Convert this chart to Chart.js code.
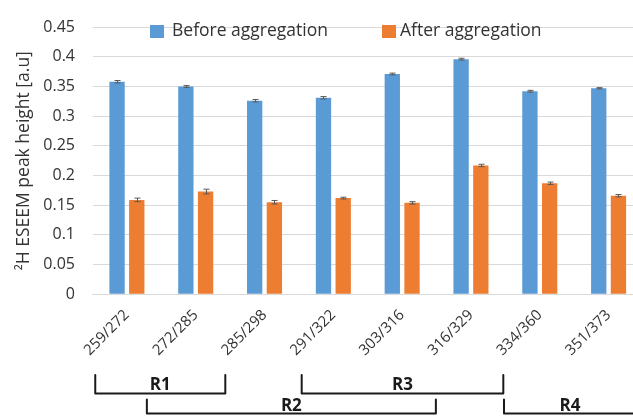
<!DOCTYPE html>
<html>
<head>
<meta charset="utf-8">
<script src="https://cdn.jsdelivr.net/npm/chart.js@4"></script>
<style>
  html, body { margin: 0; padding: 0; background: #ffffff; overflow: hidden; }
  #wrap { position: relative; width: 643px; height: 416px; }
</style>
</head>
<body>
<div id="wrap"><canvas id="chart"></canvas></div>
<script>
// Excitation/emission pairs on the category axis
const categories = ['259/272', '272/285', '285/298', '291/322', '303/316', '316/329', '334/360', '351/373'];
const seriesNames = ['Before aggregation', 'After aggregation'];

// Peak heights and their error margins
const beforeValues = [0.358, 0.350, 0.326, 0.331, 0.371, 0.396, 0.342, 0.347];
const beforeErrors = [0.002, 0.0015, 0.002, 0.002, 0.0015, 0.0015, 0.0015, 0.001];
const afterValues  = [0.159, 0.173, 0.155, 0.162, 0.154, 0.217, 0.187, 0.166];
const afterErrors  = [0.003, 0.004, 0.003, 0.0015, 0.002, 0.002, 0.002, 0.002];

// Spectral regions marked under the axis (span in category units, bracket row)
const regionNames = ['R1', 'R2', 'R3', 'R4'];
const regionFrom  = [-0.46, 0.29, 2.54, 5.48];
const regionTo    = [1.43, 4.49, 5.47, 8.5];
const regionRow   = [0, 1, 0, 1];

const FONT = "'Open Sans', 'DejaVu Sans', sans-serif";
const TEXT = '#333333';
const BLUE = '#5B9BD5';
const ORANGE = '#ED7D31';

// Vertical error bars with small caps
const errorBars = {
  id: 'errorBars',
  afterDatasetsDraw(chart) {
    const ctx = chart.ctx;
    const y = chart.scales.y;
    ctx.save();
    ctx.strokeStyle = '#595959';
    ctx.lineWidth = 1;
    chart.data.datasets.forEach((ds, di) => {
      const meta = chart.getDatasetMeta(di);
      meta.data.forEach((bar, i) => {
        const v = ds.data[i], e = ds.errors[i];
        const x = Math.round(bar.x) + 0.5;
        const y1 = y.getPixelForValue(v + e);
        const y2 = y.getPixelForValue(v - e);
        ctx.beginPath();
        ctx.moveTo(x, y1); ctx.lineTo(x, y2);
        ctx.moveTo(x - 3, y1); ctx.lineTo(x + 3, y1);
        ctx.moveTo(x - 3, y2); ctx.lineTo(x + 3, y2);
        ctx.stroke();
      });
    });
    ctx.restore();
  }
};

// Legend drawn inside the plot area, above the bars
const innerLegend = {
  id: 'innerLegend',
  afterDraw(chart) {
    const ctx = chart.ctx;
    const items = [{ box: 150, text: 172 }, { box: 382, text: 400 }];
    ctx.save();
    ctx.font = '17.5px ' + FONT;
    ctx.textBaseline = 'middle';
    ctx.textAlign = 'left';
    chart.data.datasets.forEach((ds, i) => {
      ctx.fillStyle = ds.backgroundColor;
      ctx.fillRect(items[i].box, 25, 14, 13);
      ctx.fillStyle = TEXT;
      ctx.fillText(ds.label, items[i].text, 31.5);
    });
    ctx.restore();
  }
};

// Brackets grouping the categories into regions
const regionBrackets = {
  id: 'regionBrackets',
  afterDraw(chart) {
    const ctx = chart.ctx;
    const x = chart.scales.x;
    const rows = [{ top: 375, line: 393.5, label: 385 }, { top: 399.5, line: 413.5, label: 406.5 }];
    ctx.save();
    ctx.strokeStyle = '#1a1a1a';
    ctx.lineWidth = 2;
    ctx.lineJoin = 'round';
    ctx.lineCap = 'round';
    ctx.fillStyle = '#1a1a1a';
    ctx.font = 'bold 17px ' + FONT;
    ctx.textAlign = 'center';
    ctx.textBaseline = 'middle';
    regionNames.forEach((name, i) => {
      const r = rows[regionRow[i]];
      const x1 = x.getPixelForValue(regionFrom[i]);
      const x2 = x.getPixelForValue(regionTo[i]);
      ctx.beginPath();
      ctx.moveTo(x1, r.top);
      ctx.lineTo(x1, r.line);
      ctx.lineTo(x2, r.line);
      ctx.lineTo(x2, r.top);
      ctx.stroke();
      const labelX = Math.min((x1 + x2) / 2, i === 3 ? 570 : Infinity);
      ctx.fillText(name, labelX, r.label);
    });
    ctx.restore();
  }
};

new Chart(document.getElementById('chart'), {
  type: 'bar',
  data: {
    labels: categories,
    datasets: [
      { label: seriesNames[0], data: beforeValues, errors: beforeErrors, backgroundColor: BLUE,
        barPercentage: 0.777, categoryPercentage: 0.573 },
      { label: seriesNames[1], data: afterValues, errors: afterErrors, backgroundColor: ORANGE,
        barPercentage: 0.777, categoryPercentage: 0.573 }
    ]
  },
  options: {
    responsive: true,
    maintainAspectRatio: false,
    animation: false,
    layout: { padding: { top: 20, left: 0, right: 0, bottom: 0 } },
    plugins: {
      legend: { display: false },
      tooltip: { enabled: false }
    },
    scales: {
      x: {
        offset: true,
        grid: { display: false, drawTicks: false },
        border: { display: true, color: '#D9D9D9', width: 1 },
        ticks: {
          color: TEXT,
          font: { family: FONT, size: 15 },
          minRotation: 45,
          maxRotation: 45,
          padding: 12,
          autoSkip: false
        },
        afterFit(scale) { scale.height = 121.7; }
      },
      y: {
        min: 0,
        max: 0.45,
        grid: { color: '#D9D9D9', lineWidth: 1, drawTicks: false },
        border: { display: false },
        ticks: {
          stepSize: 0.05,
          color: TEXT,
          font: { family: FONT, size: 16 },
          padding: 17.5,
          callback: (v) => String(+v.toFixed(2))
        },
        title: {
          display: true,
          text: '²H ESEEM peak height [a.u]',
          color: TEXT,
          font: { family: FONT, size: 17.5 },
          padding: { top: 14, bottom: 0 }
        },
        afterFit(scale) { scale.width = 92.5; }
      }
    }
  },
  plugins: [errorBars, innerLegend, regionBrackets]
});
</script>
</body>
</html>
